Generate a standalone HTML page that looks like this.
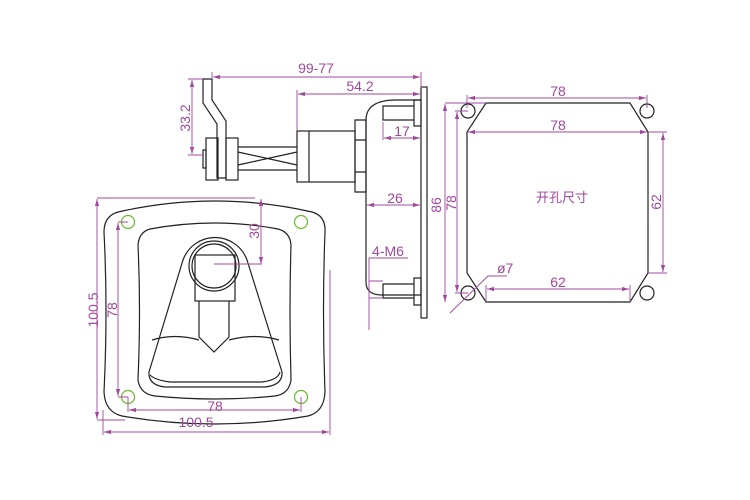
<!DOCTYPE html>
<html><head><meta charset="utf-8"><style>
html,body{margin:0;padding:0;background:#fff;width:750px;height:500px;overflow:hidden}
text{font-family:"Liberation Sans","Noto Sans CJK SC",sans-serif;fill:#a0489c}
</style></head><body>
<svg width="750" height="500" viewBox="0 0 750 500" xmlns="http://www.w3.org/2000/svg">
<defs>
<marker id="a" viewBox="0 0 10 6" refX="10" refY="3" markerWidth="8" markerHeight="5" orient="auto-start-reverse"><path d="M0,0L10,3L0,6z" fill="#a0489c"/></marker>
</defs>
<g fill="none" stroke="#222" stroke-width="1.2">
<!-- front outer -->
<path d="M118,212 Q215,190 312,212 Q326,216 325,232 Q322,310 325,392 Q324,412 308,416 Q215,432 122,416 Q105,412 104,392 Q108,310 104,232 Q104,216 118,212Z"/>
<path d="M150,229 Q215,217 278,229 Q290,232 291,245 Q289,310 291,380 Q289,394 275,396 Q215,402 155,396 Q140,394 138,380 Q141,310 138,245 Q139,232 150,229Z"/>
<!-- pocket -->
<path d="M183,260 A34,34 0 0 1 247,260 L282,372 Q283,385 265,387 L165,387 Q148,385 149,372 Z"/>
<path d="M152,340 Q175,333 199,340 M229,340 Q255,333 279,340 M150,375 Q155,380 170,382 L262,382 Q278,380 280,372"/>
<circle cx="214" cy="266" r="25"/>
<circle cx="214" cy="266" r="22"/>
<rect x="195" y="255" width="40" height="46"/>
<path d="M199,301 V337 L214,352 L229,337 V301"/>
<!-- side view -->
<rect x="421" y="87" width="6" height="231"/>
<path d="M421,100 H396 Q366,100 366,120 V282 Q366,295 382,295 H421"/>
<path d="M383,106 H414 V120 H383 Z M414,100 H421 V126 H414Z"/>
<path d="M383,284 H414 V298 H383 Z M414,278 H421 V305 H414Z"/>
<path d="M355,120 H366 V192 H355Z M355,140 H366 M355,172 H366"/>
<rect x="297" y="131" width="58" height="51"/>
<path d="M309,131 V182"/>
<path d="M238,147 H297 M238,170 H297 M238,152 L297,165 M238,165 L297,152"/>
<path d="M203,79 H212 V100 L226,121 V178 H217 V124 L203,103 Z"/>
<rect x="206" y="138" width="12" height="42"/>
<rect x="226" y="138" width="12" height="42"/>
<rect x="203" y="150" width="3" height="18"/>
<!-- cutout -->
<path d="M486,103 H630 L648,132 V273 L630,302 H486 L467,273 V132 Z"/>
<circle cx="468" cy="111" r="7"/><circle cx="647" cy="111" r="7"/>
<circle cx="468" cy="293" r="7"/><circle cx="647" cy="293" r="7"/>
</g>
<g fill="none" stroke="#6ab82e" stroke-width="1.2">
<circle cx="128" cy="222" r="6.5"/><circle cx="301" cy="222" r="6.5"/>
<circle cx="128" cy="397" r="6.5"/><circle cx="301" cy="397" r="6.5"/>
</g>
<g fill="none" stroke="#a0489c" stroke-width="0.9">
<!-- front dims -->
<path d="M97,198 H255 M97,420 H125" />
<line x1="97" y1="199" x2="97" y2="419" marker-start="url(#a)" marker-end="url(#a)"/>
<path d="M118,222 H128 M118,397 H128"/>
<line x1="118" y1="223" x2="118" y2="396" marker-start="url(#a)" marker-end="url(#a)"/>
<path d="M128,397 V412 M301,397 V412"/>
<line x1="129" y1="410" x2="300" y2="410" marker-start="url(#a)" marker-end="url(#a)"/>
<path d="M103,410 V435 M330,270 V435"/>
<line x1="104" y1="432" x2="329" y2="432" marker-start="url(#a)" marker-end="url(#a)"/>
<line x1="261" y1="199" x2="261" y2="264" marker-start="url(#a)" marker-end="url(#a)"/>
<path d="M214,264 H262"/>
<!-- side dims -->
<path d="M212,72 V79 M421,72 V88"/>
<line x1="213" y1="77" x2="420" y2="77" marker-start="url(#a)" marker-end="url(#a)"/>
<path d="M297,90 V131"/>
<line x1="298" y1="94" x2="420" y2="94" marker-start="url(#a)" marker-end="url(#a)"/>
<path d="M188,79 H203 M188,155 H204"/>
<line x1="192" y1="80" x2="192" y2="154" marker-start="url(#a)" marker-end="url(#a)"/>
<path d="M383,122 V140"/>
<line x1="384" y1="138" x2="420" y2="138" marker-start="url(#a)" marker-end="url(#a)"/>
<line x1="367" y1="205" x2="420" y2="205" marker-start="url(#a)" marker-end="url(#a)"/>
<path d="M369,258 H408 M369,258 V330 M369,281 H383 M369,298 H383"/>
<!-- cutout dims -->
<path d="M467,95 V108 M647,95 V108"/>
<line x1="468" y1="98" x2="646" y2="98" marker-start="url(#a)" marker-end="url(#a)"/>
<line x1="468" y1="132" x2="647" y2="132" marker-start="url(#a)" marker-end="url(#a)"/>
<path d="M648,132 H667 M648,273 H667"/>
<line x1="663" y1="133" x2="663" y2="272" marker-start="url(#a)" marker-end="url(#a)"/>
<path d="M486,285 V302 M630,285 V302"/>
<line x1="487" y1="289" x2="629" y2="289" marker-start="url(#a)" marker-end="url(#a)"/>
<path d="M455,111 H468 M455,293 H468 M445,103 H486"/>
<line x1="457" y1="112" x2="457" y2="292" marker-start="url(#a)" marker-end="url(#a)"/>
<line x1="445" y1="104" x2="445" y2="302" marker-start="url(#a)" marker-end="url(#a)"/>
<path d="M450,313 L488,276 H507"/>
</g>
<g font-size="14">
<text x="196" y="427" text-anchor="middle">100.5</text>
<text x="215" y="411" text-anchor="middle">78</text>
<text transform="translate(98,310) rotate(-90)" text-anchor="middle">100.5</text>
<text transform="translate(117,310) rotate(-90)" text-anchor="middle">78</text>
<text transform="translate(259,231) rotate(-90)" text-anchor="middle">30</text>
<text x="316" y="73" text-anchor="middle">99-77</text>
<text x="360" y="91" text-anchor="middle">54.2</text>
<text transform="translate(190,118) rotate(-90)" text-anchor="middle">33.2</text>
<text x="402" y="136" text-anchor="middle">17</text>
<text x="395" y="203" text-anchor="middle">26</text>
<text x="388" y="256" text-anchor="middle">4-M6</text>
<text transform="translate(441,205) rotate(-90)" text-anchor="middle">86</text>
<text transform="translate(456,203) rotate(-90)" text-anchor="middle">78</text>
<text x="558" y="96" text-anchor="middle">78</text>
<text x="558" y="130" text-anchor="middle">78</text>
<text x="558" y="287" text-anchor="middle">62</text>
<text x="497" y="273">ø7</text>
<text transform="translate(661,202) rotate(-90)" text-anchor="middle">62</text>
<text x="562" y="202" text-anchor="middle" font-size="13">开孔尺寸</text>
</g>
</svg>
</body></html>
